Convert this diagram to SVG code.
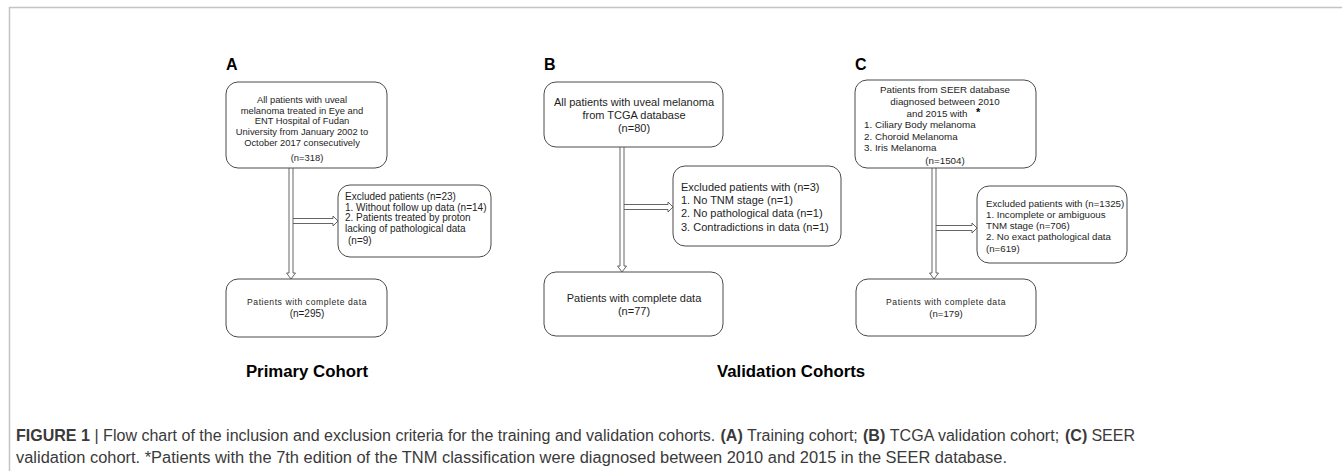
<svg xmlns="http://www.w3.org/2000/svg" width="1342" height="471" viewBox="0 0 1342 471">
<style>
.box{fill:#fff;stroke:#4a4a4a;stroke-width:1}
.arr{fill:none;stroke:#555;stroke-width:0.9}
.t{font-family:"Liberation Sans",Arial,sans-serif;fill:#1e1e1e}
.m{text-anchor:middle}
.lbl{font-family:"Liberation Sans",Arial,sans-serif;font-weight:bold;fill:#000}
.cap{font-family:"Liberation Sans",Arial,sans-serif;fill:#3a3a3a;font-size:16.05px}
.b{font-weight:bold}
.frame{stroke:#c4c4c4;stroke-width:1.5;fill:none}
</style>
<path class="frame" d="M1342,7.5 H9.5 V471"/>
<g id="panel-labels">
<text class="lbl" x="226" y="70" font-size="16">A</text>
<text class="lbl" x="544" y="70" font-size="16">B</text>
<text class="lbl" x="855" y="70" font-size="16">C</text>
</g>
<g id="A1">
<rect class="box" x="226" y="82" width="161" height="86" rx="12"/>
<text class="t m" font-size="9.4" x="302" y="103">All patients with uveal</text>
<text class="t m" font-size="9.4" x="302" y="113.7">melanoma treated in Eye and</text>
<text class="t m" font-size="9.4" x="302" y="124.3">ENT Hospital of Fudan</text>
<text class="t m" font-size="9.4" x="302" y="135">University from January 2002 to</text>
<text class="t m" font-size="9.4" x="302" y="145.5">October 2017 consecutively</text>
<text class="t m" font-size="9.4" x="307" y="161">(n=318)</text>
</g>
<g id="A2">
<rect class="box" x="338" y="185" width="153" height="72" rx="12"/>
<text class="t" font-size="10" x="345" y="199.5">Excluded patients (n=23)</text>
<text class="t" font-size="10" x="345" y="210.5">1. Without follow up data (n=14)</text>
<text class="t" font-size="10" x="345" y="221.3">2. Patients treated by proton</text>
<text class="t" font-size="10" x="345" y="232.3">lacking of pathological data</text>
<text class="t" font-size="10" x="348" y="244">(n=9)</text>
</g>
<g id="A3">
<rect class="box" x="226" y="279" width="161" height="58" rx="12"/>
<text class="t m" font-size="8.6" letter-spacing="0.55" x="307" y="304.7">Patients with complete data</text>
<text class="t m" font-size="10" x="307" y="316.5">(n=295)</text>
</g>
<g id="B1">
<rect class="box" x="544" y="82" width="179" height="65" rx="12"/>
<text class="t m" font-size="11" x="634" y="106">All patients with uveal melanoma</text>
<text class="t m" font-size="11" x="634" y="118.5">from TCGA database</text>
<text class="t m" font-size="11" x="634" y="132">(n=80)</text>
</g>
<g id="B2">
<rect class="box" x="673" y="166" width="168" height="80" rx="12"/>
<text class="t" font-size="11" x="681" y="190.5">Excluded patients with (n=3)</text>
<text class="t" font-size="11" x="681" y="204">1. No TNM stage (n=1)</text>
<text class="t" font-size="11" x="681" y="217.3">2. No pathological data (n=1)</text>
<text class="t" font-size="11" x="681" y="230.8">3. Contradictions in data (n=1)</text>
</g>
<g id="B3">
<rect class="box" x="544" y="272" width="179" height="64" rx="12"/>
<text class="t m" font-size="11" x="634" y="302">Patients with complete data</text>
<text class="t m" font-size="11" x="634" y="315">(n=77)</text>
</g>
<g id="C1">
<rect class="box" x="855" y="80" width="181" height="88" rx="12"/>
<text class="t m" font-size="9.8" x="945" y="92.5">Patients from SEER database</text>
<text class="t m" font-size="9.8" x="945" y="104.5">diagnosed between 2010</text>
<text class="t m" font-size="9.8" x="937" y="116.5">and 2015 with</text>
<text class="lbl" font-size="11" x="976" y="116">*</text>
<text class="t" font-size="9.8" x="864" y="127.7">1. Ciliary Body melanoma</text>
<text class="t" font-size="9.8" x="864" y="139.5">2. Choroid Melanoma</text>
<text class="t" font-size="9.8" x="864" y="151.3">3. Iris Melanoma</text>
<text class="t m" font-size="9.8" x="945" y="164">(n=1504)</text>
</g>
<g id="C2">
<rect class="box" x="977" y="186" width="150" height="77" rx="12"/>
<text class="t" font-size="9.7" x="986" y="206.5">Excluded patients with (n=1325)</text>
<text class="t" font-size="9.7" x="986" y="217.5">1. Incomplete or ambiguous</text>
<text class="t" font-size="9.7" x="986" y="228.5">TNM stage (n=706)</text>
<text class="t" font-size="9.7" x="986" y="239.5">2. No exact pathological data</text>
<text class="t" font-size="9.7" x="986" y="251.5">(n=619)</text>
</g>
<g id="C3">
<rect class="box" x="856" y="279" width="180" height="57" rx="12"/>
<text class="t m" font-size="8.6" letter-spacing="0.55" x="946" y="304.7">Patients with complete data</text>
<text class="t m" font-size="9.6" x="946" y="316.5">(n=179)</text>
</g>
<g id="connectors">
<path class="arr" d="M289,168 V273 H286.5 L291,279 L295.5,273 H293 V168"/>
<path class="arr" d="M293,218.5 H333 V216 L338,221 L333,226 V223.5 H293"/>
<path class="arr" d="M620,147 V266 H617.5 L622,272 L626.5,266 H624 V147"/>
<path class="arr" d="M624,204.5 H668 V202 L673,207 L668,212 V209.5 H624"/>
<path class="arr" d="M932,168 V273 H929.5 L934,279 L938.5,273 H936 V168"/>
<path class="arr" d="M936,225.5 H972 V223 L977,228 L972,233 V230.5 H936"/>
</g>
<g id="cohort-titles">
<text class="lbl" font-size="16.8" x="307" y="377" text-anchor="middle">Primary Cohort</text>
<text class="lbl" font-size="16.8" x="791" y="377" text-anchor="middle">Validation Cohorts</text>
</g>
<g id="caption">
<text class="cap b" x="16" y="441">FIGURE 1</text>
<text class="cap" x="94.5" y="441">| Flow chart of the inclusion and exclusion criteria for the training and validation cohorts.</text>
<text class="cap b" x="720.5" y="441">(A)</text>
<text class="cap" x="747" y="441">Training cohort;</text>
<text class="cap b" x="863" y="441">(B)</text>
<text class="cap" x="889.8" y="441">TCGA validation cohort;</text>
<text class="cap b" x="1065" y="441">(C)</text>
<text class="cap" x="1091.4" y="441">SEER</text>
<text class="cap" x="16" y="463" textLength="991" lengthAdjust="spacingAndGlyphs">validation cohort. *Patients with the 7th edition of the TNM classification were diagnosed between 2010 and 2015 in the SEER database.</text>
</g>
</svg>
